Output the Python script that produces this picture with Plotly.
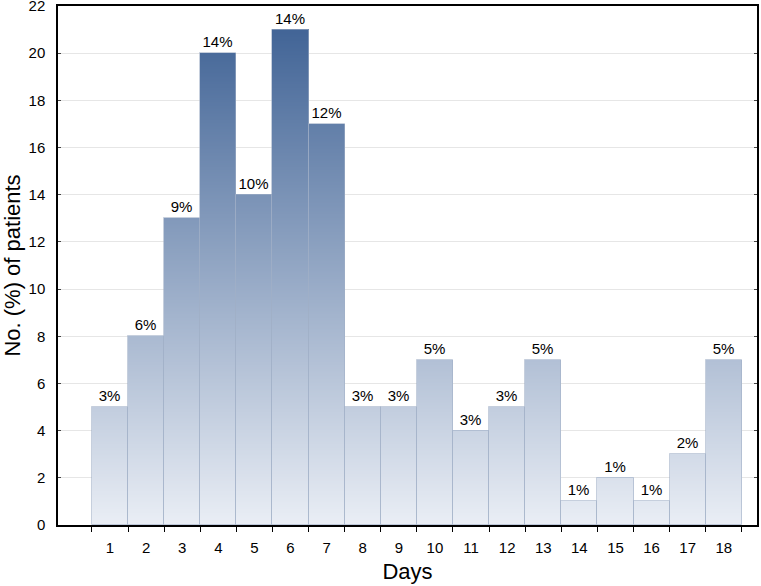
import plotly.graph_objects as go

days = list(range(1, 19))
counts = [5, 8, 13, 20, 14, 21, 17, 5, 5, 7, 4, 5, 7, 1, 2, 1, 3, 7]
pct_labels = ["3%", "6%", "9%", "14%", "10%", "14%", "12%", "3%", "3%", "5%",
              "3%", "3%", "5%", "1%", "1%", "1%", "2%", "5%"]
y_ticks = list(range(0, 23, 2))

TOP = (58, 94, 146)      # colour at y = 22
BOT = (234, 238, 245)    # colour at y = 0
YMAX = 22.0

def grad(y):
    t = max(0.0, min(1.0, y / YMAX))
    r, g, b = (round(BOT[i] + (TOP[i] - BOT[i]) * t) for i in range(3))
    return f"rgb({r},{g},{b})"

# gradient fill built from thin stacked slices of each bar
dy = 0.05
xs, bases, hs, cols = [], [], [], []
for d, v in zip(days, counts):
    k = 0
    while k * dy < v - 1e-9:
        b0 = k * dy
        top = min(v, b0 + dy * 1.6)
        xs.append(d)
        bases.append(b0)
        hs.append(top - b0)
        cols.append(grad(b0 + dy / 2))
        k += 1

FONT = "Liberation Sans, Arial"

fig = go.Figure()
fig.add_trace(go.Bar(
    x=xs, y=hs, base=bases, width=1.0,
    marker=dict(color=cols, line=dict(width=0)),
    hoverinfo="skip", showlegend=False,
))
# outlines + labels
fig.add_trace(go.Bar(
    x=days, y=counts, width=1.0,
    marker=dict(color="rgba(0,0,0,0)", line=dict(color="rgba(160,175,198,0.6)", width=1)),
    text=pct_labels, textposition="outside", cliponaxis=False,
    textfont=dict(family=FONT, size=15, color="black"),
    showlegend=False,
))

fig.update_layout(
    width=761, height=586,
    margin=dict(l=58, r=4, t=6, b=61),
    paper_bgcolor="white", plot_bgcolor="white",
    barmode="overlay", bargap=0,
    font=dict(family=FONT, size=15, color="black"),
)
fig.update_xaxes(
    range=[-0.44, 18.92], automargin=False,
    tickvals=days, ticktext=[str(d) for d in days],
    ticks="", showgrid=False, zeroline=False,
    ticklabelstandoff=8,
    showline=True, linecolor="black", linewidth=1.5, mirror=True,
    minor=dict(ticks="outside", tick0=0.5, dtick=1, ticklen=5, tickcolor="black", tickwidth=1, showgrid=False),
    tickfont=dict(size=15),
    title=dict(text="Days", font=dict(size=22), standoff=9),
)
fig.update_yaxes(
    range=[0, 22], tickvals=y_ticks, automargin=False,
    ticks="inside", ticklen=3, tickcolor="#444",
    ticklabeloverflow="allow", ticklabelstandoff=8,
    showgrid=True, gridcolor="#e6e6e6", gridwidth=1, zeroline=False,
    showline=True, linecolor="black", linewidth=1.5, mirror="ticks",
    tickfont=dict(size=15),
    title=dict(text="No. (%) of patients", font=dict(size=22), standoff=6),
)

fig.write_html("out.html", config={"displayModeBar": False},
               post_script="document.body.style.margin='0px';")
